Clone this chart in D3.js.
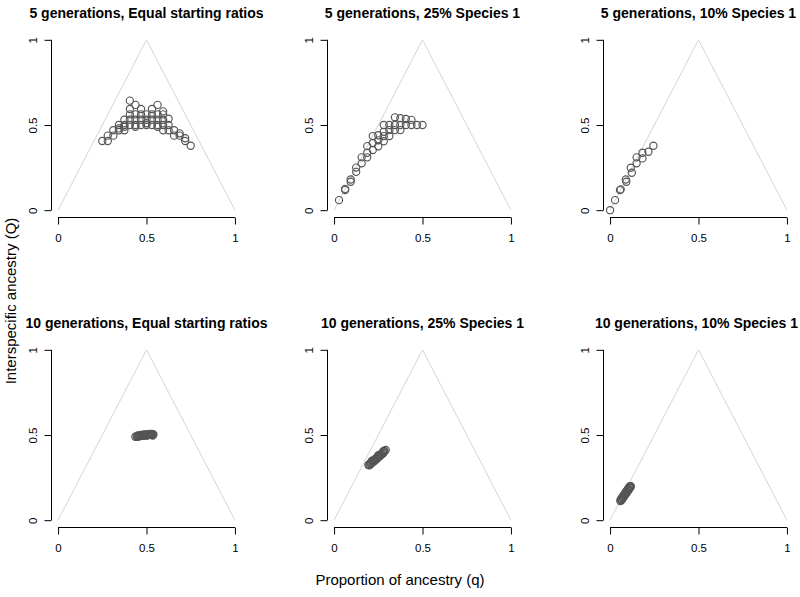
<!DOCTYPE html>
<html>
<head>
<meta charset="utf-8">
<script src="https://cdn.jsdelivr.net/npm/d3@7"></script>
<style>
  html, body { margin: 0; padding: 0; background: #fff; }
  svg { display: block; font-family: "Liberation Sans", Arial, Helvetica, sans-serif; }
</style>
</head>
<body>
<svg id="chart" width="800" height="597"></svg>
<script>
// ---------- DATA ----------
const titles = [
  "5 generations, Equal starting ratios",
  "5 generations, 25% Species 1",
  "5 generations, 10% Species 1",
  "10 generations, Equal starting ratios",
  "10 generations, 25% Species 1",
  "10 generations, 10% Species 1"
];
const tickValues = [0, 0.5, 1];
const tickLabels = ["0", "0.5", "1"];
const triangleVerts = [[0, 0], [0.5, 1], [1, 0]];
const xAxisTitle = "Proportion of ancestry (q)";
const yAxisTitle = "Interspecific ancestry (Q)";

// Panel 1: 5 generations, equal starting ratios
const q5Equal = [0.25, 0.281, 0.281, 0.3125, 0.3125, 0.344, 0.344, 0.375, 0.375, 0.375,
  0.406, 0.406, 0.406, 0.406, 0.406, 0.4375, 0.4375, 0.4375, 0.4375, 0.469, 0.469, 0.469, 0.469,
  0.5, 0.5, 0.5, 0.531, 0.531, 0.531, 0.531, 0.5625, 0.5625, 0.5625, 0.5625,
  0.594, 0.594, 0.594, 0.594, 0.594, 0.625, 0.625, 0.625, 0.656, 0.656, 0.6875, 0.6875,
  0.719, 0.719, 0.75, 0.375, 0.4375, 0.5, 0.5625, 0.344];
const Q5Equal = [0.406, 0.406, 0.4375, 0.4375, 0.469, 0.469, 0.5, 0.469, 0.5, 0.531,
  0.5, 0.531, 0.5625, 0.594, 0.643, 0.5, 0.531, 0.5625, 0.618, 0.5, 0.531, 0.5625, 0.594,
  0.5, 0.531, 0.5625, 0.5, 0.531, 0.5625, 0.594, 0.5, 0.531, 0.5625, 0.618,
  0.469, 0.5, 0.531, 0.5625, 0.58, 0.469, 0.5, 0.537, 0.469, 0.4375, 0.4375, 0.451,
  0.406, 0.422, 0.378, 0.49, 0.49, 0.51, 0.49, 0.48];

// Panel 2: 5 generations, 25% Species 1
const q5Sp25 = [0.028, 0.0625, 0.0625, 0.094, 0.094, 0.125, 0.125, 0.156, 0.156,
  0.1875, 0.1875, 0.1875, 0.219, 0.219, 0.219, 0.25, 0.25, 0.25,
  0.281, 0.281, 0.281, 0.281, 0.3125, 0.3125, 0.3125, 0.344, 0.344, 0.344,
  0.375, 0.375, 0.375, 0.406, 0.406, 0.4375, 0.4375, 0.469, 0.5];
const Q5Sp25 = [0.059, 0.118, 0.125, 0.18, 0.167, 0.25, 0.225, 0.31, 0.275,
  0.376, 0.337, 0.31, 0.435, 0.394, 0.353, 0.44, 0.41, 0.375,
  0.5, 0.46, 0.435, 0.405, 0.5, 0.47, 0.435, 0.545, 0.5, 0.47,
  0.54, 0.5, 0.47, 0.535, 0.5, 0.53, 0.5, 0.5, 0.5];

// Panel 3: 5 generations, 10% Species 1
const q5Sp10 = [0, 0.028, 0.056, 0.06, 0.089, 0.092, 0.117, 0.123, 0.15, 0.15, 0.183, 0.183, 0.217, 0.245];
const Q5Sp10 = [0, 0.059, 0.118, 0.122, 0.18, 0.167, 0.249, 0.22, 0.31, 0.275, 0.337, 0.304, 0.343, 0.378];

// Panel 4: 10 generations, equal starting ratios
const q10Equal = [0.437, 0.445, 0.45, 0.455, 0.46, 0.465, 0.47, 0.475, 0.48, 0.485, 0.49, 0.495,
  0.5, 0.505, 0.51, 0.515, 0.52, 0.525, 0.53, 0.535, 0.539,
  0.46, 0.47, 0.48, 0.49, 0.5, 0.51, 0.52, 0.53, 0.45, 0.5, 0.535];
const Q10Equal = [0.49, 0.49, 0.491, 0.492, 0.493, 0.494, 0.495, 0.496, 0.497, 0.497, 0.498, 0.499,
  0.5, 0.5, 0.5, 0.501, 0.501, 0.502, 0.502, 0.503, 0.503,
  0.497, 0.5, 0.502, 0.503, 0.504, 0.505, 0.506, 0.507, 0.497, 0.496, 0.497];

// Panel 5: 10 generations, 25% Species 1
const q10Sp25 = [0.194, 0.2, 0.205, 0.21, 0.215, 0.22, 0.225, 0.23, 0.235, 0.24, 0.245, 0.25,
  0.255, 0.26, 0.265, 0.27, 0.275, 0.28, 0.285, 0.292,
  0.2, 0.21, 0.22, 0.23, 0.24, 0.25, 0.26, 0.27, 0.28, 0.215, 0.25, 0.28];
const Q10Sp25 = [0.324, 0.33, 0.334, 0.338, 0.343, 0.347, 0.352, 0.356, 0.361, 0.365, 0.37, 0.374,
  0.379, 0.383, 0.388, 0.392, 0.397, 0.401, 0.406, 0.412,
  0.322, 0.331, 0.34, 0.349, 0.358, 0.367, 0.376, 0.385, 0.394, 0.35, 0.381, 0.407];

// Panel 6: 10 generations, 10% Species 1
const q10Sp10 = [0.058, 0.062, 0.066, 0.07, 0.074, 0.078, 0.082, 0.086, 0.09, 0.094, 0.098, 0.102,
  0.106, 0.11, 0.114, 0.117, 0.065, 0.075, 0.085, 0.095, 0.105, 0.115,
  0.06, 0.07, 0.08, 0.09, 0.1, 0.11];
const Q10Sp10 = [0.112, 0.118, 0.124, 0.13, 0.137, 0.143, 0.149, 0.155, 0.161, 0.167, 0.173, 0.18,
  0.186, 0.192, 0.198, 0.2, 0.116, 0.131, 0.146, 0.161, 0.176, 0.191,
  0.122, 0.138, 0.153, 0.168, 0.183, 0.198];

const panelQ = [q5Equal, q5Sp25, q5Sp10, q10Equal, q10Sp25, q10Sp10];
const panelBigQ = [Q5Equal, Q5Sp25, Q5Sp10, Q10Equal, Q10Sp25, Q10Sp10];

// ---------- LAYOUT ----------
const colLeft = [51, 327, 603];
const rowTop = [33, 343];
const plotW = 191, plotH = 184;
const pointColor = "#555555";
const fontFam = "'Liberation Sans', Arial, Helvetica, sans-serif";

const svg = d3.select("#chart");

panelQ.forEach((qs, i) => {
  const col = i % 3, row = Math.floor(i / 3);
  const left = colLeft[col], top = rowTop[row];
  const x = d3.scaleLinear().domain([-0.04, 1.04]).range([left, left + plotW]);
  const y = d3.scaleLinear().domain([-0.04, 1.04]).range([top + plotH, top]);
  const g = svg.append("g");

  // triangle
  g.append("path")
    .attr("d", d3.line().x(d => x(d[0])).y(d => y(d[1]))(triangleVerts))
    .attr("fill", "none").attr("stroke", "#d4d4d4").attr("stroke-width", 1);

  // points
  const pts = qs.map((q, k) => ({ q: q, Q: panelBigQ[i][k] }));
  g.selectAll("circle").data(pts).enter().append("circle")
    .attr("cx", d => x(d.q)).attr("cy", d => y(d.Q)).attr("r", 3.6)
    .attr("fill", "none").attr("stroke", pointColor).attr("stroke-width", 1.15);

  // x axis
  const xa = g.append("g").attr("transform", `translate(0,${top + plotH + 0.5})`)
    .call(d3.axisBottom(x).tickValues(tickValues).tickFormat((d, k) => tickLabels[k])
      .tickSize(7).tickPadding(9));
  xa.select(".domain").attr("d", `M${x(0)},0H${x(1)}`);
  xa.selectAll("line").attr("stroke", "#000");
  xa.selectAll("text").attr("font-size", 11.5).attr("fill", "#000")
    .attr("font-family", fontFam);

  // y axis
  const ya = g.append("g").attr("transform", `translate(${left + 0.5},0)`)
    .call(d3.axisLeft(y).tickValues(tickValues).tickFormat((d, k) => tickLabels[k])
      .tickSize(7));
  ya.select(".domain").attr("d", `M0,${y(0)}V${y(1)}`);
  ya.selectAll("text")
    .attr("x", null).attr("dy", "0.35em")
    .attr("text-anchor", "middle")
    .attr("transform", "translate(-19,0) rotate(-90)")
    .attr("font-size", 11.5).attr("fill", "#000")
    .attr("font-family", fontFam);

  // title (kept inside the canvas)
  const t = svg.append("text")
    .attr("x", left + plotW / 2).attr("y", top - 15)
    .attr("text-anchor", "middle")
    .attr("font-weight", "bold").attr("font-size", 14)
    .text(titles[i]);
  const w = t.node().getComputedTextLength();
  const rightEdge = left + plotW / 2 + w / 2;
  if (rightEdge > 798) t.attr("x", left + plotW / 2 - (rightEdge - 798));
});

// axis titles
svg.append("text")
  .attr("x", 400).attr("y", 585)
  .attr("text-anchor", "middle").attr("font-size", 15)
  .text(xAxisTitle);
svg.append("text")
  .attr("transform", "translate(16,301) rotate(-90)")
  .attr("text-anchor", "middle").attr("font-size", 15)
  .text(yAxisTitle);
</script>
</body>
</html>
